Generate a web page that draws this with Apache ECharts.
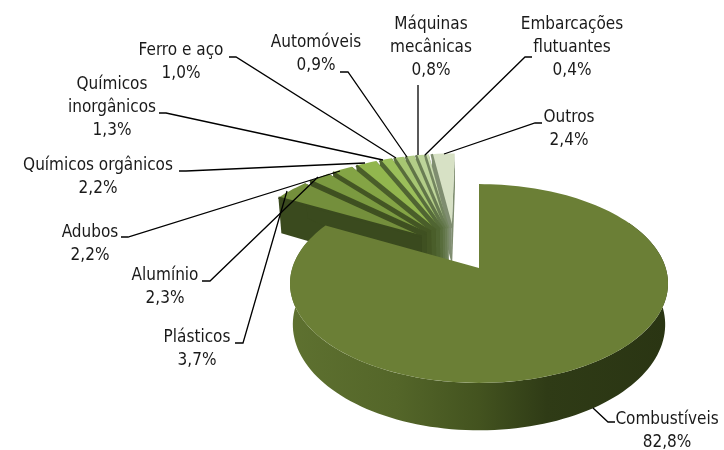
<!DOCTYPE html>
<html><head><meta charset="utf-8">
<style>html,body{margin:0;padding:0;background:#fff}#c{width:724px;height:450px}</style>
<script src="https://cdn.jsdelivr.net/npm/echarts@6/dist/echarts.min.js"></script>
</head><body><div id="c"></div>
<script>
var categories = ['Combustíveis','Plásticos','Alumínio','Adubos','Químicos orgânicos','Químicos\ninorgânicos','Ferro e aço','Automóveis','Máquinas\nmecânicas','Embarcações\nflutuantes','Outros'];
var shares = [82.8,3.7,2.3,2.2,2.2,1.3,1.0,0.9,0.8,0.4,2.4];
var shareLabels = ['82,8%','3,7%','2,3%','2,2%','2,2%','1,3%','1,0%','0,9%','0,8%','0,4%','2,4%'];
var topColors = ['#6b7f36','#748f3c','#7b9a40','#84a445','#92b64e','#9bbf5a','#a6c672','#b3cd88','#bdd49a','#c8daad','#d7e1c5'];
var wallColors = ['#2c3814','#3a4a1e','#3f5021','#445624','#4a5e2a','#506532','#586d3c','#617548','#6a7d54','#748660','#7f8d70'];

// label layout: [centre x, first-line y, leader points]
var labelPos = [
 [667,420,[[615,422],[608,422],[593,408]]],
 [197,338,[[235,343],[243,343],[287,191]]],
 [165,276,[[202,281],[210,281],[318,177]]],
 [90,233,[[121,237],[128,237],[340,171]]],
 [98,166,[[179,171],[186,171],[365,163]]],
 [112,85,[[159,113],[166,113],[383,160]]],
 [181,51,[[229,57],[236,57],[396,158]]],
 [316,43,[[340,72],[348,72],[407,157]]],
 [431,25,[[418,85],[418,155]]],
 [572,25,[[532,57],[525,57],[425,155]]],
 [569,118,[[542,123],[535,123],[444,154]]]
];

var X0=478, Y0=268, A=97, B=186.7, K=0.156, DEPTH=40, EXPLODE=0.225, LINE=23, GROUP_DX=-4, GROUP_DY=-2;
var total = shares.reduce(function(a,b){return a+b;},0);
var starts=[]; (function(){var c=0;shares.forEach(function(s){starts.push(c);c+=s;});})();
function ang(v){return v/total*Math.PI*2;}
var mainMid = ang(shares[0])/2;

function proj(u,v,bottom){
  var w=1-K*v;
  var x=X0+(bottom?0.985:1)*B*u/w+1;
  var y=Y0+A*v/w+(bottom?DEPTH/w:0);
  return [x,y];
}
function renderSlice(params,api){
  var i=api.value(0), val=api.value(1), st=ang(api.value(2)), en=st+ang(val), mid=(st+en)/2;
  var ou=0, ov=0;
  if(i!==0){
    ou=EXPLODE*(Math.sin(mid)-Math.sin(mainMid));
    ov=EXPLODE*(-Math.cos(mid)+Math.cos(mainMid));
  }
  function move(p){return i===0?p:[p[0]+GROUP_DX,p[1]+GROUP_DY];}
  function rim(t,b){return move(proj(ou+Math.sin(t),ov-Math.cos(t),b));}
  function apex(b){return move(proj(ou,ov,b));}
  var children=[];
  var top=[apex(false)];
  var steps=Math.max(2,Math.round((en-st)/(Math.PI/90)));
  for(var k=0;k<=steps;k++){top.push(rim(st+(en-st)*k/steps,false));}
  if(i===0){
    var a0=60*Math.PI/180, a1=288*Math.PI/180, pts=[], n=120, q;
    for(q=0;q<=n;q++){pts.push(rim(a0+(a1-a0)*q/n,false));}
    for(q=n;q>=0;q--){pts.push(rim(a0+(a1-a0)*q/n,true));}
    children.push({type:'polygon',shape:{points:pts},silent:true,style:{fill:new echarts.graphic.LinearGradient(0,0,1,0,[
      {offset:0,color:'#5e7130'},{offset:0.28,color:'#546629'},{offset:0.5,color:'#43531f'},{offset:0.68,color:'#2f3b16'},{offset:1,color:'#2a3513'}])}});
  } else {
    children.push({type:'polygon',shape:{points:[apex(false),rim(st,false),rim(st,true),apex(true)]},silent:true,style:{fill:wallColors[i]}});
    children.push({type:'polygon',shape:{points:[apex(false),rim(en,false),rim(en,true),apex(true)]},silent:true,style:{fill:wallColors[i]}});
  }
  children.push({type:'polygon',shape:{points:top},silent:true,style:{fill:topColors[i]}});
  if(i!==0){
    children.push({type:'polyline',shape:{points:[apex(false),rim(st,false)]},silent:true,style:{stroke:wallColors[i],lineWidth:2.5,fill:null}});
  }
  return {type:'group',children:children};
}
function renderLabel(params,api){
  var i=api.value(0), p=labelPos[i];
  var lines=categories[i].split('\n').concat([shareLabels[i]]);
  var ch=[{type:'polyline',shape:{points:p[2]},silent:true,style:{stroke:'#000',lineWidth:1.3,fill:null}}];
  ch.push({type:'text',silent:true,style:{text:lines.join('\n'),x:p[0],y:p[1]-LINE/2,align:'center',verticalAlign:'top',
    font:'17px "DejaVu Sans Condensed","DejaVu Sans",sans-serif',lineHeight:LINE,fill:'#1a1a1a'}});
  return {type:'group',children:ch};
}
var order=shares.map(function(s,i){return i;}).reverse();
var sliceData=order.map(function(i){return [i,shares[i],starts[i]];});
var labelData=shares.map(function(s,i){return [i,s];});
var chart=echarts.init(document.getElementById('c'),null,{renderer:'canvas'});
chart.setOption({
  animation:false,backgroundColor:'#fff',tooltip:{show:false},
  series:[
   {type:'custom',coordinateSystem:'none',renderItem:renderSlice,data:sliceData,z:2,silent:true},
   {type:'custom',coordinateSystem:'none',renderItem:renderLabel,data:labelData,z:3,silent:true}
  ]
});
</script></body></html>
